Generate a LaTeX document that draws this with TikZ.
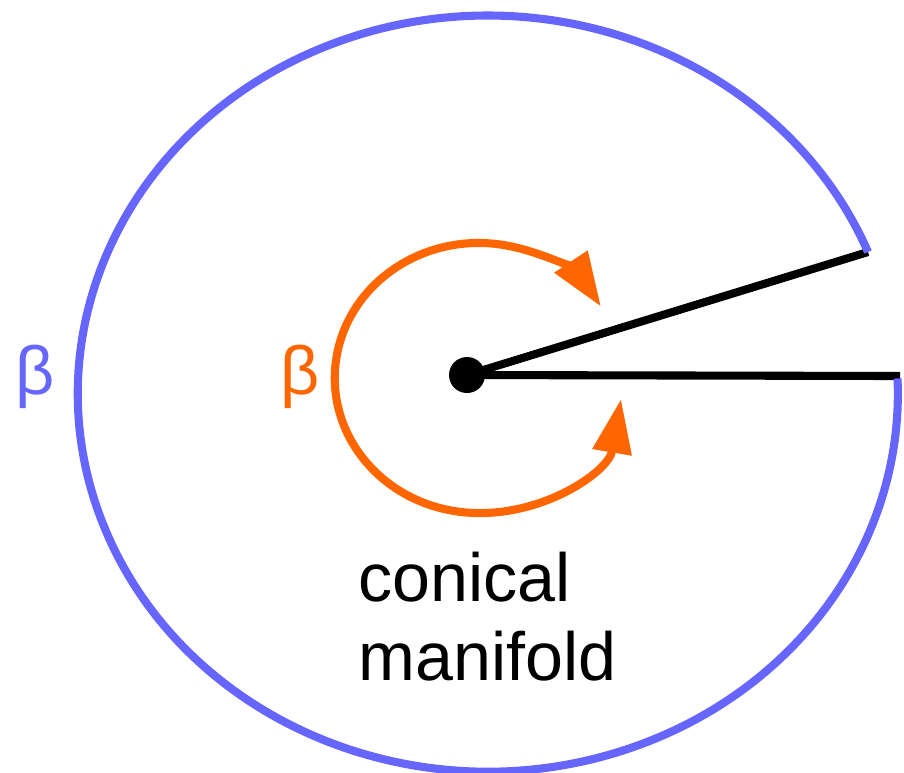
\documentclass[tikz,border=0pt]{standalone}
\usepackage{fontspec}
\setmainfont{Liberation Sans}
\usepackage{xcolor}
\usetikzlibrary{positioning,calc,arrows.meta}
\definecolor{rimblue}{HTML}{6666FF}
\definecolor{turn}{HTML}{FF6600}
\tikzset{
  rim/.style={draw=rimblue, line width=2.3pt},
  edge/.style={draw=black, line width=2.3pt},
  sweep/.style={draw=turn, line width=2.3pt, {Triangle[length=5.4mm, width=3.8mm]}-{Triangle[length=5.4mm, width=3.8mm]}}}
\begin{document}
\begin{tikzpicture}[x=0.01cm, y=0.01cm, font=\fontsize{19.4pt}{22.3pt}\selectfont,
  apex/.style={circle, fill=black, minimum size=3.6mm, inner sep=0pt},
  lbl/.style={inner sep=0pt}]
\useasboundingbox (0,0) rectangle (904,-772);
\node[apex] (apex) at (467,-375) {};
\coordinate (rimA) at (868,-252);
\coordinate (rimB) at (900,-376);
\draw[edge] (apex.center) -- (rimA);
\draw[edge] (apex.center) -- (rimB);
% outer rim, cut open along the two edges
\draw[rim] (rimA) arc[start angle=22, end angle=362.3, x radius=410, y radius=378];
% total angle round the apex
\draw[sweep] (621,-399.1) arc[start angle=351, end angle=32, x radius=144, y radius=135];
\node[lbl, text=rimblue] (betaout) at (35,-377) {β};
\node[lbl, text=turn] (betain) at (300,-377) {β};
\node[lbl, anchor=base west, align=left] (name) at (358,-680) {conical\\manifold};
\end{tikzpicture}
\end{document}
